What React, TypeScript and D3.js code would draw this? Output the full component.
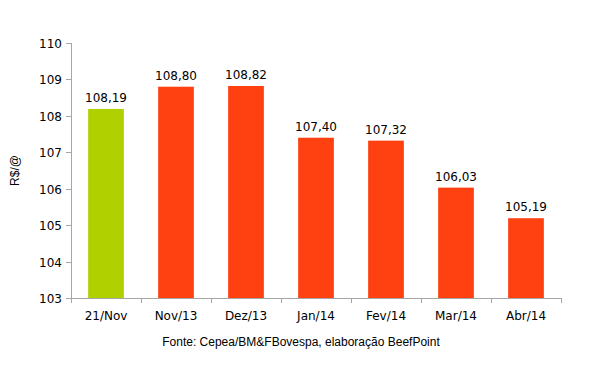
import React from 'react';
import * as d3 from 'd3';

const categories = ['21/Nov', 'Nov/13', 'Dez/13', 'Jan/14', 'Fev/14', 'Mar/14', 'Abr/14'];
const values = [108.19, 108.8, 108.82, 107.4, 107.32, 106.03, 105.19];
const yTicks = [103, 104, 105, 106, 107, 108, 109, 110];

const W = 603;
const H = 367;
const margin = { top: 43, right: 42, bottom: 69, left: 71 };

const App: React.FC = () => {
  const width = W - margin.left - margin.right;
  const height = H - margin.top - margin.bottom;

  const x = d3.scaleBand().domain(categories).range([0, width]).paddingInner(0.49).paddingOuter(0.245);
  const y = d3.scaleLinear().domain([103, 110]).range([height, 0]);
  const step = x.step();
  const fmt = (v: number) => v.toFixed(2).replace('.', ',');

  return (
    <div style={{ position: 'absolute', left: 0, top: 0 }}>
      <svg width={W} height={H} style={{ display: 'block', background: '#fff' }}>
        <g transform={`translate(${margin.left},${margin.top})`}>
          {/* bars */}
          {values.map((v, i) => (
            <rect
              key={categories[i]}
              x={x(categories[i]) || 0}
              y={y(v)}
              width={x.bandwidth()}
              height={height - y(v)}
              fill={i === 0 ? '#b0d000' : '#ff4010'}
            />
          ))}
          {/* value labels */}
          {values.map((v, i) => (
            <text
              key={'l' + i}
              x={(x(categories[i]) || 0) + x.bandwidth() / 2}
              y={y(v) - 7}
              textAnchor="middle"
              fontFamily="DejaVu Sans, Verdana, sans-serif"
              fontSize={12}
              fill="#000"
            >
              {fmt(v)}
            </text>
          ))}
          {/* y axis */}
          <line x1={0.5} x2={0.5} y1={0} y2={height} stroke="#a6a6a6" />
          {yTicks.map(t => (
            <g key={t} transform={`translate(0,${Math.round(y(t)) + 0.5})`}>
              <line x1={-5} x2={0} stroke="#a6a6a6" />
              <text x={-9} dy="0.35em" textAnchor="end" fontFamily="DejaVu Sans, Verdana, sans-serif" fontSize={12} fill="#000">
                {t}
              </text>
            </g>
          ))}
          {/* x axis */}
          <line x1={0} x2={width} y1={height + 0.5} y2={height + 0.5} stroke="#a6a6a6" />
          {d3.range(categories.length + 1).map(i => (
            <line key={'t' + i} x1={Math.round(i * step) + 0.5} x2={Math.round(i * step) + 0.5} y1={height} y2={height + 5} stroke="#a6a6a6" />
          ))}
          {categories.map(c => (
            <text
              key={'c' + c}
              x={(x(c) || 0) + x.bandwidth() / 2}
              y={height + 22}
              textAnchor="middle"
              fontFamily="DejaVu Sans, Verdana, sans-serif"
              fontSize={12}
              fill="#000"
            >
              {c}
            </text>
          ))}
          <text
            transform={`translate(${-56},${height / 2}) rotate(-90)`}
            textAnchor="middle"
            dy="0.35em"
            fontFamily="Liberation Sans, Arial, sans-serif"
            fontSize={12}
            fill="#000"
          >
            R$/@
          </text>
        </g>
        <text x={301} y={346} textAnchor="middle" fontFamily="Liberation Sans, Arial, sans-serif" fontSize={12} fill="#000">
          Fonte: Cepea/BM&amp;FBovespa, elaboração BeefPoint
        </text>
      </svg>
    </div>
  );
};

export default App;
